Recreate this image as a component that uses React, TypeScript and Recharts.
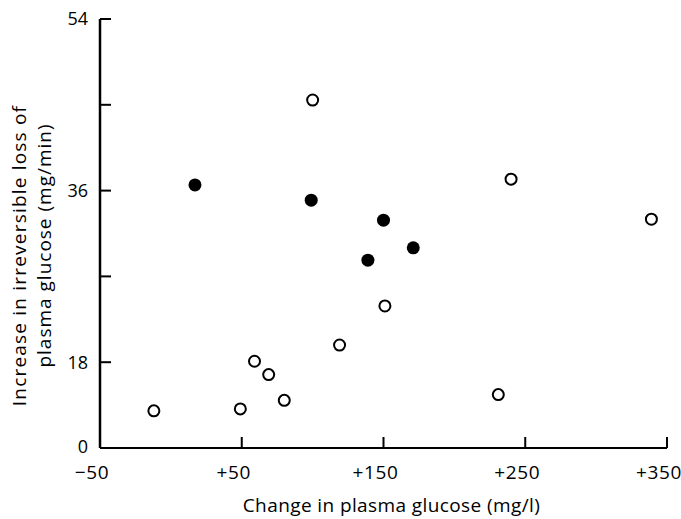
import React from 'react';
import { ScatterChart, Scatter, XAxis, YAxis } from 'recharts';

// open circles
const openX = [-12, 49, 59, 69, 80, 119, 151, 231, 240, 339, 100];
const openY = [12.9, 13.1, 18.1, 16.7, 14.0, 19.8, 23.9, 14.6, 37.2, 33.0, 45.5];

// filled circles
const filledX = [17, 99, 150, 171, 139];
const filledY = [36.6, 35.0, 32.9, 30.0, 28.7];

const xTicks = [-50, 50, 150, 250, 350];
const xTickLabels = ['\u221250', '+50', '+150', '+250', '+350'];
const yTicks = [9, 18, 27, 36, 45, 54];
const yTickLabels = ['0', '18', '', '36', '', '54'];

const xTitle = 'Change in plasma glucose (mg/l)';
const yTitle1 = 'Increase in irreversible loss of';
const yTitle2 = 'plasma glucose (mg/min)';

const FONT = '"Open Sans", sans-serif';

const openData = openX.map((x, i) => ({ x, y: openY[i] }));
const filledData = filledX.map((x, i) => ({ x, y: filledY[i] }));

const OpenDot = (props: any) => (
  <circle cx={props.cx} cy={props.cy} r={5.5} fill="#fff" stroke="#000" strokeWidth={2} />
);
const FilledDot = (props: any) => (
  <circle cx={props.cx} cy={props.cy} r={6.5} fill="#000" stroke="none" />
);

const X_MARGIN = 12;
const XTick = (props: any) => {
  const { x, y, payload } = props;
  const i = xTicks.indexOf(payload.value);
  const axisY = y - X_MARGIN;
  return (
    <g>
      <line x1={x} y1={axisY} x2={x} y2={axisY - 11} stroke="#000" strokeWidth={2} />
      <text x={x - 8} y={axisY + 31} textAnchor="middle" fontSize={19} letterSpacing={0.6} fontFamily={FONT} fill="#000">
        {xTickLabels[i]}
      </text>
    </g>
  );
};

const Y_MARGIN = 12;
const YTick = (props: any) => {
  const { x, y, payload } = props;
  const i = yTicks.indexOf(payload.value);
  const axisX = x + Y_MARGIN;
  return (
    <g>
      {i > 0 && <line x1={axisX} y1={y} x2={axisX + 11} y2={y} stroke="#000" strokeWidth={2} />}
      <text x={x} y={i === 0 ? y - 1 : y} dy="0.36em" textAnchor="end" fontSize={18} fontFamily={FONT} fill="#000">
        {yTickLabels[i]}
      </text>
    </g>
  );
};

const XTitle = (props: any) => {
  const vb = props.viewBox;
  return (
    <text x={vb.x + vb.width / 2 + 8} y={vb.y + vb.height - 7} textAnchor="middle" fontSize={19} letterSpacing={0.4} fontFamily={FONT} fill="#000">
      {xTitle}
    </text>
  );
};

const YTitle = (props: any) => {
  const vb = props.viewBox;
  const cy = vb.y + vb.height / 2 + 18;
  return (
    <g>
      <text x={26} y={cy + 4} transform={`rotate(-90 26 ${cy + 4})`} textAnchor="middle" fontSize={19} letterSpacing={1.2} fontFamily={FONT} fill="#000">
        {yTitle1}
      </text>
      <text x={51} y={cy - 6} transform={`rotate(-90 51 ${cy - 6})`} textAnchor="middle" fontSize={19} letterSpacing={1} fontFamily={FONT} fill="#000">
        {yTitle2}
      </text>
    </g>
  );
};

export default function App() {
  return (
    <div style={{ position: 'absolute', left: 0, top: 0, width: 681, height: 519, background: '#fff' }}>
      <ScatterChart
        width={681}
        height={519}
        margin={{ top: 19, right: 14, left: 0, bottom: 0 }}
        style={{ overflow: 'visible' }}
      >
        <XAxis
          type="number"
          dataKey="x"
          domain={[-50, 350]}
          ticks={xTicks}
          interval={0}
          height={71}
          tickSize={0}
          tickMargin={X_MARGIN}
          tickLine={false}
          tick={<XTick />}
          axisLine={{ stroke: '#000', strokeWidth: 2 }}
          label={<XTitle />}
        />
        <YAxis
          type="number"
          dataKey="y"
          domain={[9, 54]}
          ticks={yTicks}
          interval={0}
          width={100}
          tickSize={0}
          tickMargin={Y_MARGIN}
          tickLine={false}
          tick={<YTick />}
          axisLine={{ stroke: '#000', strokeWidth: 2.5 }}
          label={<YTitle />}
        />
        <Scatter data={openData} shape={<OpenDot />} isAnimationActive={false} />
        <Scatter data={filledData} shape={<FilledDot />} isAnimationActive={false} />
      </ScatterChart>
    </div>
  );
}
